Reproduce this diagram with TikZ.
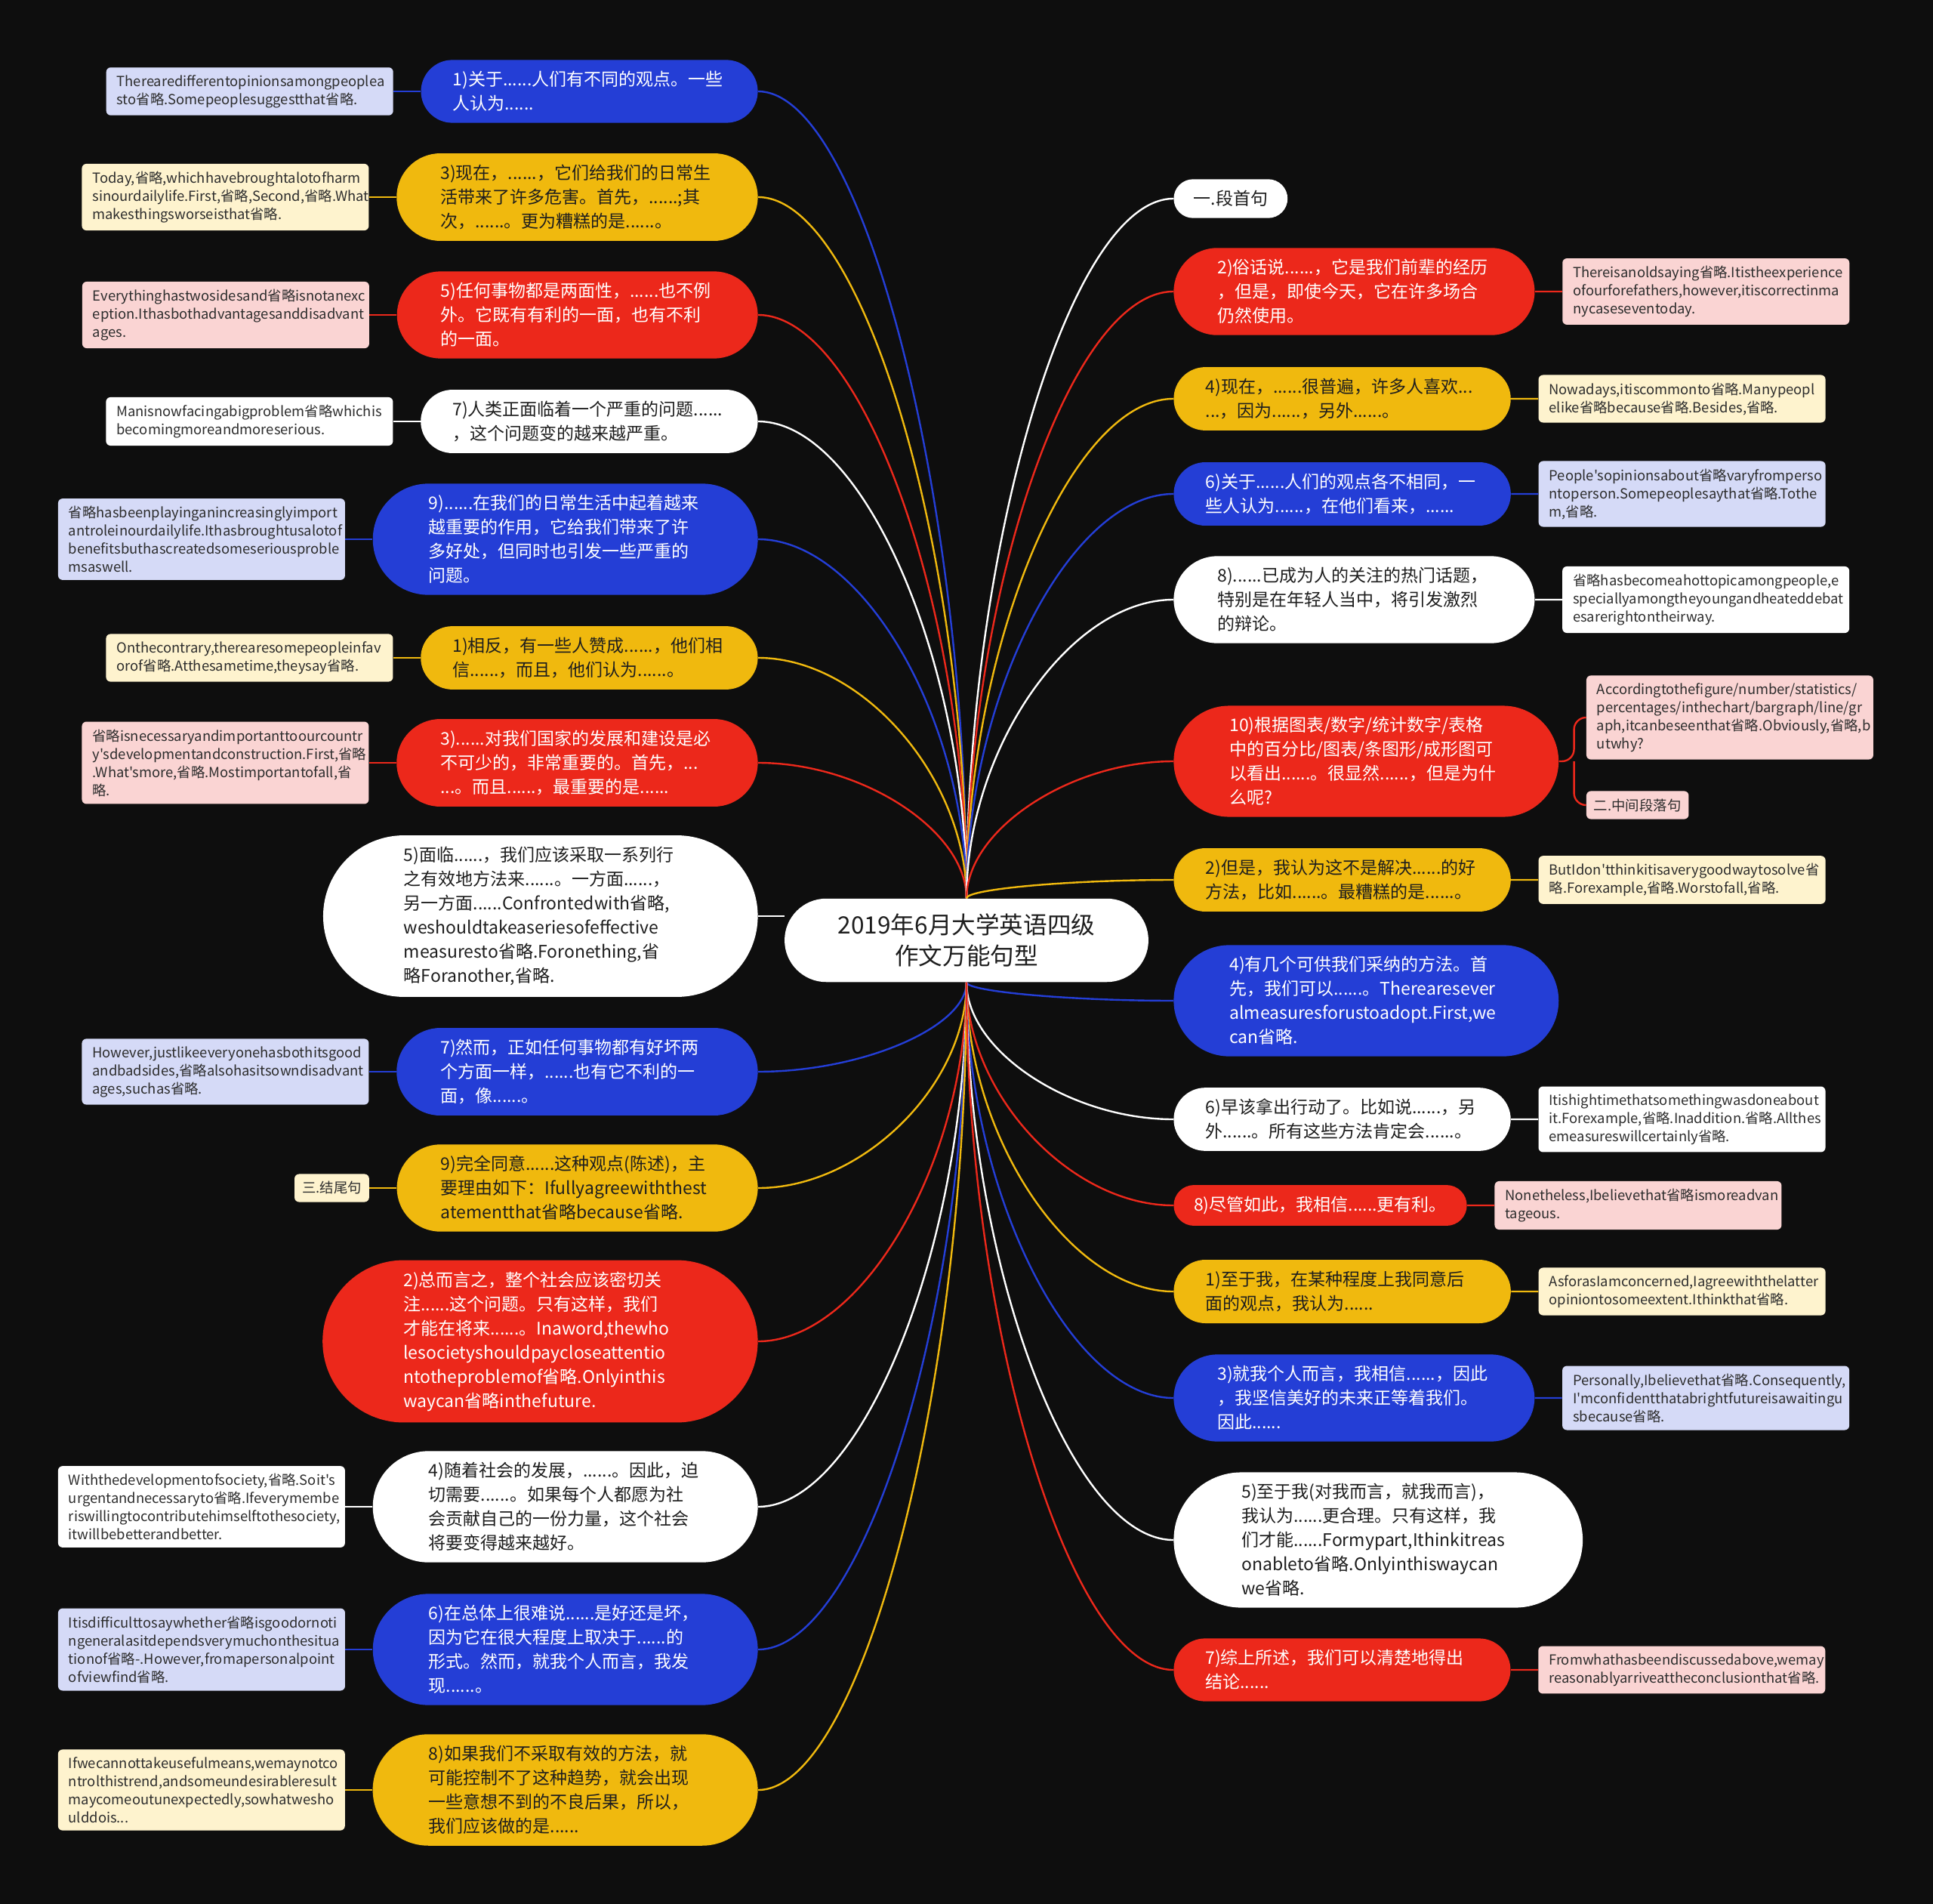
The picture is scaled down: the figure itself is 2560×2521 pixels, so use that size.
\documentclass[tikz,border=0pt]{standalone}
\usepackage{fontspec}
\setmainfont{Noto Sans CJK SC}[Ligatures=TeXOff]
\usepackage{tikz}
\usetikzlibrary{shapes.misc, positioning, calc}
\definecolor{mmbg}{RGB}{14,14,14}
\definecolor{mmblue}{RGB}{36,62,214}
\definecolor{mmyellow}{RGB}{240,185,14}
\definecolor{mmred}{RGB}{236,40,27}
\definecolor{mmdark}{RGB}{30,30,30}
\definecolor{noteblue}{RGB}{213,218,247}
\definecolor{noteyellow}{RGB}{254,243,206}
\definecolor{notered}{RGB}{250,212,211}
\definecolor{notetext}{RGB}{45,45,45}
% curve from the hub to a branch
\newcommand{\twig}[3]{%
  \draw[#1] (#2) .. controls ($(#2)!0.5!(#2|-#3)$) and ($(#3)!0.5!(#3-|#2)$) .. (#3);}
\begin{document}
\begin{tikzpicture}[
  x=0.5pt, y=-0.5pt,
  node distance=18pt,
  hubnode/.style={rounded rectangle, fill=white, text=mmdark, align=center,
                  inner xsep=29pt, inner ysep=10pt, font=\fontsize{15.8}{20.5}\selectfont},
  branch/.style={rounded rectangle, text width=181pt, inner ysep=7.5pt,
                 align=left, font=\fontsize{11.5}{16}\selectfont},
  tag/.style={rounded rectangle, inner ysep=7.5pt, rows=1,
              font=\fontsize{11.5}{16}\selectfont},
  rows/.style={inner xsep={sqrt(120*#1+22.5)*1pt}},
  bluebr/.style={fill=mmblue, text=white},
  yellowbr/.style={fill=mmyellow, text=mmdark},
  redbr/.style={fill=mmred, text=white},
  whitebr/.style={fill=white, text=mmdark},
  note/.style={rectangle, rounded corners=3pt, text width=176pt, inner xsep=7pt, inner ysep=5pt,
               align=left, text=notetext, font=\fontsize{9.2}{12}\selectfont},
  smallnote/.style={rectangle, rounded corners=3pt, inner xsep=5pt, inner ysep=5pt,
                    text=notetext, font=\fontsize{9.2}{12}\selectfont},
  blink/.style={draw=mmblue, line width=1.2pt},
  ylink/.style={draw=mmyellow, line width=1.2pt},
  rlink/.style={draw=mmred, line width=1.2pt},
  wlink/.style={draw=white, line width=1.2pt},
]
  \fill[mmbg] (0,0) rectangle (2560,2521);

  \node[hubnode] (hub) at (1280,1245) {2019年6月大学英语四级\\作文万能句型};

  % left side
  \node[branch, rows=2, bluebr, anchor=east] (l1) at (1004,121) {1)关于......人们有不同的观点。一些\\人认为......};
  \node[branch, rows=3, yellowbr, anchor=east] (l2) at (1004,261) {3)现在，......，它们给我们的日常生\\活带来了许多危害。首先，......;其\\次，......。更为糟糕的是......。};
  \node[branch, rows=3, redbr, anchor=east] (l3) at (1004,417) {5)任何事物都是两面性，......也不例\\外。它既有有利的一面，也有不利\\的一面。};
  \node[branch, rows=2, whitebr, anchor=east] (l4) at (1004,558) {7)人类正面临着一个严重的问题......\\，这个问题变的越来越严重。};
  \node[branch, rows=4, bluebr, anchor=east] (l5) at (1004,714) {9)......在我们的日常生活中起着越来\\越重要的作用，它给我们带来了许\\多好处，但同时也引发一些严重的\\问题。};
  \node[branch, rows=2, yellowbr, anchor=east] (l6) at (1004,871) {1)相反，有一些人赞成......，他们相\\信......，而且，他们认为......。};
  \node[branch, rows=3, redbr, anchor=east] (l7) at (1004,1010) {3)......对我们国家的发展和建设是必\\不可少的，非常重要的。首先，...\\...。而且......，最重要的是......};
  \node[branch, rows=6, whitebr, anchor=east] (l8) at (1004,1213) {5)面临......，我们应该采取一系列行\\之有效地方法来......。一方面......，\\另一方面......Confrontedwith省略,\\weshouldtakeaseriesofeffective\\measuresto省略.Foronething,省\\略Foranother,省略.};
  \node[branch, rows=3, bluebr, anchor=east] (l9) at (1004,1419) {7)然而，正如任何事物都有好坏两\\个方面一样，......也有它不利的一\\面，像......。};
  \node[branch, rows=3, yellowbr, anchor=east] (l10) at (1004,1573) {9)完全同意......这种观点(陈述)，主\\要理由如下：Ifullyagreewiththest\\atementthat省略because省略.};
  \node[branch, rows=6, redbr, anchor=east] (l11) at (1004,1776) {2)总而言之，整个社会应该密切关\\注......这个问题。只有这样，我们\\才能在将来......。Inaword,thewho\\lesocietyshouldpaycloseattentio\\ntotheproblemof省略.Onlyinthis\\waycan省略inthefuture.};
  \node[branch, rows=4, whitebr, anchor=east] (l12) at (1004,1995) {4)随着社会的发展，......。因此，迫\\切需要......。如果每个人都愿为社\\会贡献自己的一份力量，这个社会\\将要变得越来越好。};
  \node[branch, rows=4, bluebr, anchor=east] (l13) at (1004,2184) {6)在总体上很难说......是好还是坏，\\因为它在很大程度上取决于......的\\形式。然而，就我个人而言，我发\\现......。};
  \node[branch, rows=4, yellowbr, anchor=east] (l14) at (1004,2370) {8)如果我们不采取有效的方法，就\\可能控制不了这种趋势，就会出现\\一些意想不到的不良后果，所以，\\我们应该做的是......};

  \node[note, fill=noteblue, left=of l1] (l1n) {Therearedifferentopinionsamongpeoplea\\sto省略.Somepeoplesuggestthat省略.};
  \node[note, fill=noteyellow, left=of l2] (l2n) {Today,省略,whichhavebroughtalotofharm\\sinourdailylife.First,省略,Second,省略.What\\makesthingsworseisthat省略.};
  \node[note, fill=notered, left=of l3] (l3n) {Everythinghastwosidesand省略isnotanexc\\eption.Ithasbothadvantagesanddisadvant\\ages.};
  \node[note, fill=white, left=of l4] (l4n) {Manisnowfacingabigproblem省略whichis\\becomingmoreandmoreserious.};
  \node[note, fill=noteblue, left=of l5] (l5n) {省略hasbeenplayinganincreasinglyimport\\antroleinourdailylife.Ithasbroughtusalotof\\benefitsbuthascreatedsomeseriousproble\\msaswell.};
  \node[note, fill=noteyellow, left=of l6] (l6n) {Onthecontrary,therearesomepeopleinfav\\orof省略.Atthesametime,theysay省略.};
  \node[note, fill=notered, left=of l7] (l7n) {省略isnecessaryandimportanttoourcountr\\y'sdevelopmentandconstruction.First,省略\\.What'smore,省略.Mostimportantofall,省\\略.};
  \node[note, fill=noteblue, left=of l9] (l9n) {However,justlikeeveryonehasbothitsgood\\andbadsides,省略alsohasitsowndisadvant\\ages,suchas省略.};
  \node[smallnote, fill=noteyellow, left=of l10] (l10n) {三.结尾句};
  \node[note, fill=white, left=of l12] (l12n) {Withthedevelopmentofsociety,省略.Soit's\\urgentandnecessaryto省略.Ifeverymembe\\riswillingtocontributehimselftothesociety,\\itwillbebetterandbetter.};
  \node[note, fill=noteblue, left=of l13] (l13n) {Itisdifficulttosaywhether省略isgoodornoti\\ngeneralasitdependsverymuchonthesitua\\\mbox{tionof省略-.However,fromapersonalpoint}\\ofviewfind省略.};
  \node[note, fill=noteyellow, left=of l14] (l14n) {Ifwecannottakeusefulmeans,wemaynotco\\ntrolthistrend,andsomeundesirableresult\\maycomeoutunexpectedly,sowhatwesho\\ulddois...};

  % right side
  \node[tag, whitebr, anchor=west] (r1) at (1554,263) {一.段首句};
  \node[branch, rows=3, redbr, anchor=west] (r2) at (1554,386) {2)俗话说......，它是我们前辈的经历\\，但是，即使今天，它在许多场合\\仍然使用。};
  \node[branch, rows=2, yellowbr, anchor=west] (r3) at (1554,528) {4)现在，......很普遍，许多人喜欢...\\...，因为......，另外......。};
  \node[branch, rows=2, bluebr, anchor=west] (r4) at (1554,654) {6)关于......人们的观点各不相同，一\\些人认为......，在他们看来，......};
  \node[branch, rows=3, whitebr, anchor=west] (r5) at (1554,794) {8)......已成为人的关注的热门话题，\\特别是在年轻人当中，将引发激烈\\的辩论。};
  \node[branch, rows=4, redbr, anchor=west] (r6) at (1554,1008) {10)根据图表/数字/统计数字/表格\\中的百分比/图表/条图形/成形图可\\以看出......。很显然......，但是为什\\么呢?};
  \node[branch, rows=2, yellowbr, anchor=west] (r7) at (1554,1165) {2)但是，我认为这不是解决......的好\\方法，比如......。最糟糕的是......。};
  \node[branch, rows=4, bluebr, anchor=west] (r8) at (1554,1325) {4)有几个可供我们采纳的方法。首\\先，我们可以......。Therearesever\\almeasuresforustoadopt.First,we\\can省略.};
  \node[branch, rows=2, whitebr, anchor=west] (r9) at (1554,1482) {6)早该拿出行动了。比如说......，另\\外......。所有这些方法肯定会......。};
  \node[tag, redbr, anchor=west] (r10) at (1554,1596) {8)尽管如此，我相信......更有利。};
  \node[branch, rows=2, yellowbr, anchor=west] (r11) at (1554,1710) {1)至于我，在某种程度上我同意后\\面的观点，我认为......};
  \node[branch, rows=3, bluebr, anchor=west] (r12) at (1554,1851) {3)就我个人而言，我相信......，因此\\，我坚信美好的未来正等着我们。\\因此......};
  \node[branch, rows=5, whitebr, anchor=west] (r13) at (1554,2039) {5)至于我(对我而言，就我而言)，\\我认为......更合理。只有这样，我\\们才能......Formypart,Ithinkitreas\\onableto省略.Onlyinthiswaycan\\we省略.};
  \node[branch, rows=2, redbr, anchor=west] (r14) at (1554,2211) {7)综上所述，我们可以清楚地得出\\结论......};

  \node[note, fill=notered, right=of r2] (r2n) {Thereisanoldsaying省略.Itistheexperience\\ofourforefathers,however,itiscorrectinma\\nycaseseventoday.};
  \node[note, fill=noteyellow, right=of r3] (r3n) {Nowadays,itiscommonto省略.Manypeopl\\elike省略because省略.Besides,省略.};
  \node[note, fill=noteblue, right=of r4] (r4n) {People'sopinionsabout省略varyfromperso\\ntoperson.Somepeoplesaythat省略.Tothe\\m,省略.};
  \node[note, fill=white, right=of r5] (r5n) {省略hasbecomeahottopicamongpeople,e\\speciallyamongtheyoungandheateddebat\\esarerightontheirway.};
  \node[note, fill=notered, right=of r6, yshift=29pt] (r6a) {Accordingtothefigure/number/statistics/\\percentages/inthechart/bargraph/line/gr\\aph,itcanbeseenthat省略.Obviously,省略,b\\utwhy?};
  \node[smallnote, fill=notered, right=of r6, yshift=-29pt] (r6b) {二.中间段落句};
  \node[note, fill=noteyellow, right=of r7] (r7n) {ButIdon'tthinkitisaverygoodwaytosolve省\\略.Forexample,省略.Worstofall,省略.};
  \node[note, fill=white, right=of r9] (r9n) {Itishightimethatsomethingwasdoneabout\\it.Forexample,省略.Inaddition.省略.Allthes\\emeasureswillcertainly省略.};
  \node[note, fill=notered, right=of r10] (r10n) {Nonetheless,Ibelievethat省略ismoreadvan\\tageous.};
  \node[note, fill=noteyellow, right=of r11] (r11n) {AsforasIamconcerned,Iagreewiththelatter\\opiniontosomeextent.Ithinkthat省略.};
  \node[note, fill=noteblue, right=of r12] (r12n) {Personally,Ibelievethat省略.Consequently,\\I'mconfidentthatabrightfutureisawaitingu\\sbecause省略.};
  \node[note, fill=notered, right=of r14] (r14n) {Fromwhathasbeendiscussedabove,wemay\\reasonablyarriveattheconclusionthat省略.};

  % hub to branches
  \twig{blink}{hub.north}{l1.east}
  \twig{ylink}{hub.north}{l2.east}
  \twig{rlink}{hub.north}{l3.east}
  \twig{wlink}{hub.north}{l4.east}
  \twig{blink}{hub.north}{l5.east}
  \twig{ylink}{hub.north}{l6.east}
  \twig{rlink}{hub.north}{l7.east}
  \draw[wlink] (l8.east) -- (l8.east -| hub.west);
  \twig{blink}{hub.south}{l9.east}
  \twig{ylink}{hub.south}{l10.east}
  \twig{rlink}{hub.south}{l11.east}
  \twig{wlink}{hub.south}{l12.east}
  \twig{blink}{hub.south}{l13.east}
  \twig{ylink}{hub.south}{l14.east}

  \twig{wlink}{hub.north}{r1.west}
  \twig{rlink}{hub.north}{r2.west}
  \twig{ylink}{hub.north}{r3.west}
  \twig{blink}{hub.north}{r4.west}
  \twig{wlink}{hub.north}{r5.west}
  \twig{rlink}{hub.north}{r6.west}
  \twig{ylink}{hub.north}{r7.west}
  \twig{blink}{hub.south}{r8.west}
  \twig{wlink}{hub.south}{r9.west}
  \twig{rlink}{hub.south}{r10.west}
  \twig{ylink}{hub.south}{r11.west}
  \twig{blink}{hub.south}{r12.west}
  \twig{wlink}{hub.south}{r13.west}
  \twig{rlink}{hub.south}{r14.west}

  % branches to notes
  \draw[blink] (l1n) -- (l1);
  \draw[ylink] (l2n) -- (l2);
  \draw[rlink] (l3n) -- (l3);
  \draw[wlink] (l4n) -- (l4);
  \draw[blink] (l5n) -- (l5);
  \draw[ylink] (l6n) -- (l6);
  \draw[rlink] (l7n) -- (l7);
  \draw[blink] (l9n) -- (l9);
  \draw[ylink] (l10n) -- (l10);
  \draw[wlink] (l12n) -- (l12);
  \draw[blink] (l13n) -- (l13);
  \draw[ylink] (l14n) -- (l14);

  \draw[rlink] (r2) -- (r2n);
  \draw[ylink] (r3) -- (r3n);
  \draw[blink] (r4) -- (r4n);
  \draw[wlink] (r5) -- (r5n);
  \coordinate[right=10pt of r6] (r6fork);
  \draw[rlink, rounded corners=8pt] (r6.east) -- (r6fork) |- (r6a.west);
  \draw[rlink, rounded corners=8pt] (r6fork) |- (r6b.west);
  \draw[ylink] (r7) -- (r7n);
  \draw[wlink] (r9) -- (r9n);
  \draw[rlink] (r10) -- (r10n);
  \draw[ylink] (r11) -- (r11n);
  \draw[blink] (r12) -- (r12n);
  \draw[rlink] (r14) -- (r14n);
\end{tikzpicture}
\end{document}
